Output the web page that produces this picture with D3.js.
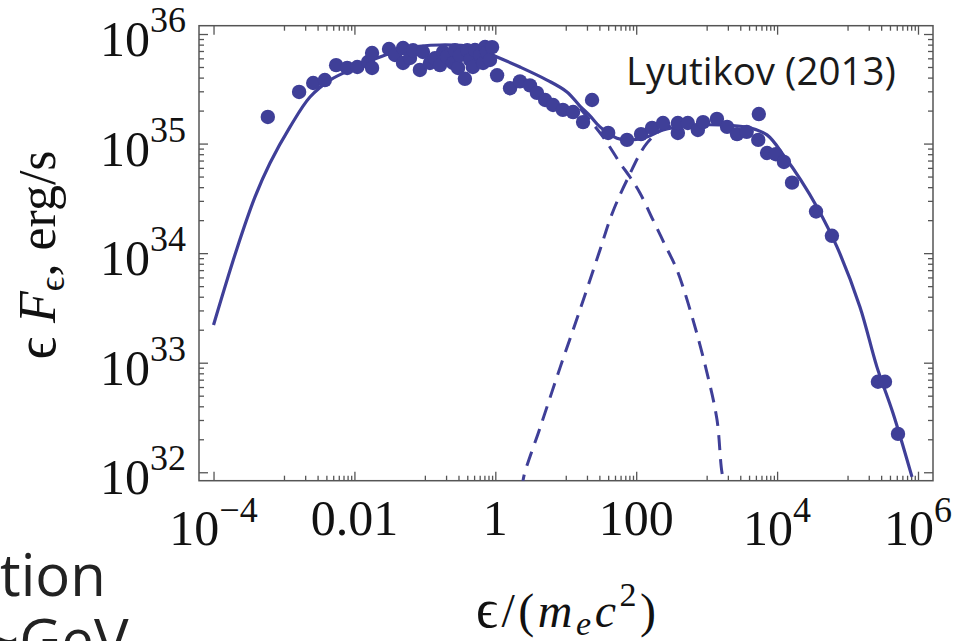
<!DOCTYPE html>
<html><head><meta charset="utf-8">
<script src="https://cdn.jsdelivr.net/npm/d3@7"></script>
<style>html,body{margin:0;padding:0;background:#fff;} svg{display:block}</style>
</head><body>
<svg id="chart" width="973" height="641"></svg>
<script>
// ---------- data ----------
const xTickValues = [1e-4, 1e-2, 1, 1e2, 1e4, 1e6];
const xTickLabels = ["10^−4", "0.01", "1", "100", "10^4", "10^6"];
const yTickValues = [1e32, 1e33, 1e34, 1e35, 1e36];
const yTickLabels = ["10^32", "10^33", "10^34", "10^35", "10^36"];

// observed points: epsilon/(m_e c^2) and epsilon F_epsilon (erg/s)
const obsEps = [5.9e-4, 1.64e-3, 2.6e-3, 3.8e-3, 5.5e-3, 7.9e-3, 0.011, 0.0156, 0.0178, 0.0178,
  0.031, 0.0377, 0.049, 0.049, 0.0615, 0.068, 0.085, 0.094, 0.118, 0.139, 0.164, 0.181, 0.206,
  0.25, 0.268, 0.296, 0.315, 0.37, 0.40, 0.44, 0.48, 0.515, 0.61, 0.67, 0.715, 0.76, 0.84, 0.90,
  1.06, 1.62, 2.24, 3.1, 3.9, 5.1, 6.6, 9.1, 12.7, 17.6, 23.6, 40, 74, 117, 168, 240, 390, 390,
  540, 750, 890, 1400, 1950, 2700, 3700, 5500, 5400, 7200, 9600, 12500, 16300, 35700, 60000,
  2.7e5, 3.4e5, 5.2e5];
const obsF = [1.75e35, 2.96e35, 3.57e35, 3.8e35, 5.2e35, 4.9e35, 5.0e35, 5.55e35, 6.7e35, 4.9e35,
  7.3e35, 6.43e35, 7.45e35, 5.44e35, 6.04e35, 7.1e35, 4.7e35, 6.85e35, 5.44e35, 6.0e35, 5.21e35, 6.85e35, 6.2e35,
  5.44e35, 7.1e35, 4.9e35, 6.4e35, 3.9e35, 7.1e35, 5.8e35, 5.0e35, 7.14e35, 6.4e35, 5.44e35, 7.61e35, 6.85e35, 5.8e35, 7.6e35,
  4.2e35, 3.2e35, 3.7e35, 3.4e35, 2.9e35, 2.5e35, 2.25e35, 2.03e35, 1.94e35, 1.57e35, 2.5e35, 1.25e35, 1.08e35, 1.22e35, 1.39e35, 1.54e35, 1.25e35, 1.54e35,
  1.54e35, 1.33e35, 1.57e35, 1.68e35, 1.42e35, 1.22e35, 1.28e35, 1.86e35, 1.08e35, 8.2e34, 8.0e34, 6.8e34, 4.4e34, 2.4e34, 1.44e34,
  6.7e32, 6.7e32, 2.24e32];

// total model (solid)
const totalEps = [1e-4, 2.16e-4, 3.88e-4, 6.34e-4, 1.22e-3, 2.34e-3, 4.51e-3, 0.0109, 0.0231, 0.0558,
  0.164, 0.48, 1.06, 2.24, 5.42, 10.4, 15.9, 22.1, 30.6, 53.3, 81.6, 142, 240, 526, 1546, 4121,
  7190, 12880, 21730, 36800, 70800, 1.5e5, 2.61e5, 4.41e5, 8.22e5];
const totalF = [2.21e33, 1.11e34, 3.26e34, 6.65e34, 1.42e35, 2.66e35, 3.8e35, 5.0e35, 6.17e35, 7.45e35,
  7.94e35, 7.6e35, 6.17e35, 5.0e35, 3.8e35, 2.96e35, 2.2e35, 1.79e35, 1.42e35, 1.12e35, 1.08e35, 1.15e35, 1.33e35, 1.45e35, 1.48e35, 1.39e35,
  1.2e35, 7.55e34, 4.65e34, 2.64e34, 1.14e34, 3.23e33, 9.16e32, 3.48e32, 9.08e31];

// low-energy component (dashed)
const lowEps = [15.9, 33.8, 58.9, 81.6, 113, 173, 256, 379, 640, 1012, 1403, 1652, 1888];
const lowF = [2.1e35, 1.15e35, 6.65e34, 4.95e34, 3.54e34, 2.01e34, 1.19e34, 7.03e33,
  2.46e33, 8.07e32, 3.01e32, 9.88e31, 6.9e31];

// high-energy component (dashed)
const highEps = [2.4, 2.55, 4.31, 8.28, 15.9, 30.6, 45.3, 74, 142, 256, 581];
const highF = [7.0e31, 9.27e31, 2.54e32, 8.97e32, 3.03e33, 1.07e34, 2.28e34, 4.65e34, 1.01e35, 1.39e35, 1.54e35];

// ---------- drawing ----------
const W = 973, H = 641;
const L = 199, R = 933, T = 25.7, B = 480.7;
const col = "#3f3f98";
const svg = d3.select("#chart");
svg.append("rect").attr("width", W).attr("height", H).attr("fill", "#fff");

const x = d3.scaleLog().domain([6.22e-5, 1.633e6]).range([L, R]);
const y = d3.scaleLog().domain([8.375e31, 1.191e36]).range([B, T]);

const defs = svg.append("defs");
defs.append("clipPath").attr("id", "clip").append("rect")
  .attr("x", L).attr("y", T).attr("width", R - L).attr("height", B - T);

// ticks
const xMinor = [];
xTickValues.slice(0, -1).forEach(v => { for (let k = 1; k <= 9; k++) xMinor.push(v * 10 * k); });
const yMinor = [];
yTickValues.slice(0, -1).forEach(v => { for (let k = 2; k <= 9; k++) yMinor.push(v * k); });

const tickColor = "#555";
function styleAxis(g) {
  g.select(".domain").remove();
  g.selectAll("line").attr("stroke", tickColor).attr("stroke-width", 1.3);
  g.selectAll("text").remove();
}
svg.append("g").attr("transform", `translate(0,${B})`)
  .call(d3.axisBottom(x).tickValues(xTickValues).tickSize(-9)).call(styleAxis);
svg.append("g").attr("transform", `translate(0,${B})`)
  .call(d3.axisBottom(x).tickValues(xMinor).tickSize(-5)).call(styleAxis);
svg.append("g").attr("transform", `translate(0,${T})`)
  .call(d3.axisTop(x).tickValues(xTickValues).tickSize(-9)).call(styleAxis);
svg.append("g").attr("transform", `translate(0,${T})`)
  .call(d3.axisTop(x).tickValues(xMinor).tickSize(-5)).call(styleAxis);
svg.append("g").attr("transform", `translate(${L},0)`)
  .call(d3.axisLeft(y).tickValues(yTickValues).tickSize(-9)).call(styleAxis);
svg.append("g").attr("transform", `translate(${L},0)`)
  .call(d3.axisLeft(y).tickValues(yMinor).tickSize(-5)).call(styleAxis);
svg.append("g").attr("transform", `translate(${R},0)`)
  .call(d3.axisRight(y).tickValues(yTickValues).tickSize(-9)).call(styleAxis);
svg.append("g").attr("transform", `translate(${R},0)`)
  .call(d3.axisRight(y).tickValues(yMinor).tickSize(-5)).call(styleAxis);

svg.append("rect").attr("x", L).attr("y", T).attr("width", R - L).attr("height", B - T)
  .attr("fill", "none").attr("stroke", tickColor).attr("stroke-width", 1.5);

// tick labels
const serif = "'Liberation Serif', 'Times New Roman', 'DejaVu Serif', serif";
function addLabel(g, s, xp, yp, anchor, fs, sfs, rise, supBaseline) {
  const parts = s.split("^");
  const t = g.append("text").attr("x", xp).attr("text-anchor", anchor)
    .attr("font-family", serif).attr("font-size", fs).attr("fill", "#111");
  if (parts.length === 1) {
    t.attr("y", yp).text(parts[0]);
  } else {
    t.attr("y", supBaseline);
    t.append("tspan").text(parts[0]);
    t.append("tspan").attr("font-size", sfs).attr("dy", -rise).text(parts[1]);
  }
}
const gl = svg.append("g");
xTickValues.forEach((v, i) => {
  addLabel(gl, xTickLabels[i], x(v), 535, "middle", 50, 36, 23, 545);
});
yTickValues.forEach((v, i) => {
  addLabel(gl, yTickLabels[i], 186, 0, "end", 50, 36, 24, y(v) + 22);
});

// axis titles
const yt = svg.append("text").attr("transform", "translate(55,255) rotate(-90)")
  .attr("text-anchor", "middle").attr("font-family", serif).attr("font-size", 52).attr("fill", "#111");
yt.append("tspan").attr("font-size", 56).text("ϵ ");
yt.append("tspan").attr("font-style", "italic").text("F");
yt.append("tspan").attr("font-size", 36).attr("dy", 9).text("ϵ");
yt.append("tspan").attr("dy", -9).text(", erg/s");

const xt = svg.append("text").attr("x", 566).attr("y", 627)
  .attr("text-anchor", "middle").attr("font-family", serif).attr("font-size", 48).attr("fill", "#111")
  .attr("textLength", 180).attr("lengthAdjust", "spacing");
xt.append("tspan").attr("font-size", 54).text("ϵ");
xt.append("tspan").text("/(");
xt.append("tspan").attr("font-style", "italic").text("m");
xt.append("tspan").attr("font-style", "italic").attr("font-size", 34).attr("dy", 8).text("e");
xt.append("tspan").attr("font-style", "italic").attr("dy", -8).text("c");
xt.append("tspan").attr("font-size", 34).attr("dy", -21).text("2");
xt.append("tspan").attr("dy", 21).text(")");

// curves
const plot = svg.append("g").attr("clip-path", "url(#clip)");
const line = d3.line().x(d => x(d[0])).y(d => y(d[1])).curve(d3.curveCatmullRom.alpha(0.5));
const zipXY = (a, b) => a.map((v, i) => [v, b[i]]);
plot.append("path").datum(zipXY(lowEps, lowF)).attr("d", line)
  .attr("fill", "none").attr("stroke", col).attr("stroke-width", 3).attr("stroke-dasharray", "15,9");
plot.append("path").datum(zipXY(highEps, highF)).attr("d", line)
  .attr("fill", "none").attr("stroke", col).attr("stroke-width", 3).attr("stroke-dasharray", "15,9");
plot.append("path").datum(zipXY(totalEps, totalF)).attr("d", line)
  .attr("fill", "none").attr("stroke", col).attr("stroke-width", 3.2);

// points
plot.selectAll("circle.pt").data(zipXY(obsEps, obsF)).join("circle").attr("class", "pt")
  .attr("cx", d => x(d[0])).attr("cy", d => y(d[1])).attr("r", 7.2).attr("fill", col);

// annotation
svg.append("text").attr("x", 626).attr("y", 85).attr("font-family", "'Open Sans', 'Noto Sans', sans-serif")
  .attr("font-size", 38.5).attr("fill", "#1a1a1a").text("Lyutikov (2013)");

// fragments of surrounding slide text
const sans = "'Open Sans', 'Noto Sans', sans-serif";
svg.append("text").attr("x", 0).attr("y", 596).attr("font-family", sans)
  .attr("font-size", 58).attr("fill", "#222").text("tion");
svg.append("text").attr("x", -14).attr("y", 661).attr("font-family", sans)
  .attr("font-size", 58).attr("fill", "#222").text("~GeV");
</script>
</body></html>
